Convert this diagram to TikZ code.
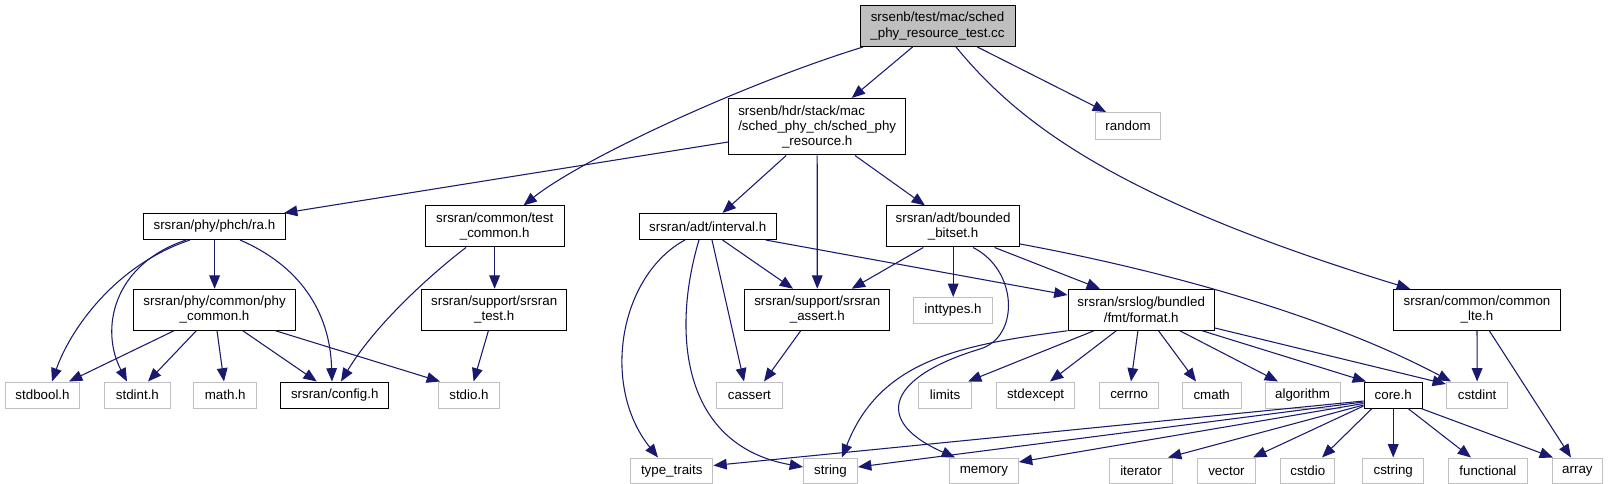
\documentclass[tikz,border=0pt]{standalone}
\usepackage{fontspec}
\setmainfont{Liberation Sans}
\usetikzlibrary{arrows.meta}
\definecolor{edgec}{HTML}{191970}
\definecolor{extc}{HTML}{BFBFBF}
\definecolor{rootfill}{HTML}{BFBFBF}
\begin{document}
\begin{tikzpicture}[x=0.75pt,y=-0.75pt,
  box/.style 2 args={line width=0.75pt, inner sep=0pt, align=center, fill=white,
    font=\fontsize{10}{11.4}\selectfont, minimum width=#1*0.75pt, minimum height=#2*0.75pt},
  doc/.style={draw=black},
  ext/.style={draw=extc},
  inc/.style={draw=edgec, line width=0.8pt, -{Triangle[length=10pt,width=8pt]}}
]
\path[use as bounding box, fill=white] (0,0) rectangle (1608,484);

% row 0-1
\node[box={155}{41}, doc, fill=rootfill] (root) at (937.5,26) {srsenb/test/mac/sched\\\_phy\_resource\_test.cc};
\node[box={177}{56.5}, doc] (sched) at (817.2,126.75) {\rlap{srsenb/hdr/stack/mac}\phantom{/sched\_phy\_ch/sched\_phy}\\/sched\_phy\_ch/sched\_phy\\\_resource.h};
\node[box={65}{27}, ext] (random) at (1128,126) {random};
% row 2
\node[box={141.6}{26}, doc] (ra) at (214.4,226.5) {srsran/phy/phch/ra.h};
\node[box={138.8}{41}, doc] (testcommon) at (494.7,226.5) {srsran/common/test\\\_common.h};
\node[box={137}{26}, doc] (interval) at (707.75,226.5) {srsran/adt/interval.h};
\node[box={133}{41}, doc] (bb) at (953.1,226.5) {srsran/adt/bounded\\\_bitset.h};
% row 3
\node[box={162.5}{41}, doc] (phycommon) at (214.55,309.75) {srsran/phy/common/phy\\\_common.h};
\node[box={145.4}{41}, doc] (srstest) at (494.2,309.75) {srsran/support/srsran\\\_test.h};
\node[box={145.3}{41}, doc] (assert) at (817.25,309.75) {srsran/support/srsran\\\_assert.h};
\node[box={78.5}{26}, ext] (inttypes) at (953,310.5) {inttypes.h};
\node[box={146.4}{41}, doc] (format) at (1141.2,309.75) {srsran/srslog/bundled\\/fmt/format.h};
\node[box={167}{41}, doc] (lte) at (1477,309.75) {srsran/common/common\\\_lte.h};
% row 4
\node[box={74.7}{26}, ext] (stdbool) at (42.55,395) {stdbool.h};
\node[box={65.4}{26}, ext] (stdint) at (137.4,395) {stdint.h};
\node[box={62.7}{26}, ext] (math) at (225.25,395) {math.h};
\node[box={108}{26}, doc] (config) at (334.75,395) {srsran/config.h};
\node[box={61.3}{26}, ext] (stdio) at (469,395) {stdio.h};
\node[box={65.4}{26}, ext] (cassert) at (749.4,395) {cassert};
\node[box={53}{26}, ext] (limits) at (945,395) {limits};
\node[box={78.6}{26}, ext] (stdexcept) at (1035.6,395) {stdexcept};
\node[box={58.6}{26}, ext] (cerrno) at (1129.2,395) {cerrno};
\node[box={59}{26}, ext] (cmath) at (1211.7,395) {cmath};
\node[box={74.8}{26}, ext] (algorithm) at (1302.6,395) {algorithm};
\node[box={58.4}{26}, doc] (core) at (1393.2,395) {core.h};
\node[box={61.4}{26}, ext] (cstdint) at (1477.1,395) {cstdint};
% row 5
\node[box={82.3}{25.6}, ext] (typetraits) at (671.75,470.8) {type\_traits};
\node[box={54}{25.6}, ext] (string) at (830.5,470.8) {string};
\node[box={68.9}{25.6}, ext] (memory) at (983.95,470.8) {memory};
\node[box={62.4}{25.6}, ext] (iterator) at (1141,470.8) {iterator};
\node[box={58.3}{25.6}, ext] (vector) at (1226.45,470.8) {vector};
\node[box={54.2}{25.6}, ext] (cstdio) at (1307.8,470.8) {cstdio};
\node[box={61}{25.6}, ext] (cstring) at (1393.2,470.8) {cstring};
\node[box={78.2}{25.6}, ext] (functional) at (1487.9,470.8) {functional};
\node[box={50.8}{25.6}, ext] (array) at (1577.4,470.8) {array};

% root
\draw[inc] (root.south -| 912.6,0) -- (sched.north -| 851.7,0);
\draw[inc] (root.south -| 863,0) .. controls (740,85) and (580,160) .. (testcommon.north -| 523.5,0);
\draw[inc] (root.south -| 977.4,0) -- (random.north -| 1106,0);
\draw[inc] (root.south -| 956,0) .. controls (1020,125) and (1120,200) .. (lte.north -| 1410,0);
% sched
\draw[inc] (sched.west |- 0,142) -- (ra.north -| 284,0);
\draw[inc] (sched.south -| 786.2,0) -- (interval.north -| 722.5,0);
\draw[inc] (sched.south) -- (assert.north);
\draw[inc] (sched.south -| 855,0) -- (bb.north -| 925,0);
% ra
\draw[inc] (ra.south -| 190,0) .. controls (115,265) and (70,330) .. (stdbool.north -| 52,0);
\draw[inc] (ra.south -| 186,0) .. controls (112,265) and (100,330) .. (stdint.north -| 127,0);
\draw[inc] (ra.south -| 214.6,0) -- (phycommon.north -| 214.6,0);
\draw[inc] (ra.south -| 240,0) .. controls (298,265) and (330,310) .. (config.north -| 332,0);
% test_common
\draw[inc] (testcommon.south -| 466,0) .. controls (430,275) and (375,325) .. (config.north -| 341,0);
\draw[inc] (testcommon.south -| 494.6,0) -- (srstest.north -| 494.6,0);
% phy_common
\draw[inc] (phycommon.south -| 174,0) -- (stdbool.north -| 69,0);
\draw[inc] (phycommon.south -| 196.3,0) -- (stdint.north -| 148,0);
\draw[inc] (phycommon.south -| 217,0) -- (math.north -| 224,0);
\draw[inc] (phycommon.south -| 242.8,0) -- (config.north -| 316.8,0);
\draw[inc] (phycommon.south -| 275.5,0) -- (stdio.north -| 440,0);
\draw[inc] (srstest.south -| 488.4,0) -- (stdio.north -| 473.6,0);
% interval
\draw[inc] (interval.south -| 685,0) .. controls (620,275) and (600,385) .. (typetraits.north -| 658,0);
\draw[inc] (interval.south -| 699,0) .. controls (672,330) and (680,445) .. (string.west |- 0,467);
\draw[inc] (interval.south -| 712,0) -- (cassert.north -| 744,0);
\draw[inc] (interval.south -| 722.5,0) -- (assert.north -| 793,0);
\draw[inc] (interval.south -| 765.6,0) -- (format.west |- 0,295);
\draw[inc] (assert.south -| 800.7,0) -- (cassert.north -| 764,0);
% bounded_bitset
\draw[inc] (bb.south -| 923.3,0) -- (assert.north -| 851.7,0);
\draw[inc] (bb.south -| 953.2,0) -- (inttypes.north -| 953.2,0);
\draw[inc] (bb.south -| 973,0) .. controls (1018,270) and (1020,337) .. (980,349) .. controls (890,376) and (870,420) .. (memory.north -| 955,0);
\draw[inc] (bb.south -| 994.6,0) -- (format.north -| 1100,0);
\draw[inc] (bb.east |- 0,244) .. controls (1150,268) and (1320,312) .. (cstdint.north -| 1451,0);
% format
\draw[inc] (format.south west) .. controls (960,345) and (880,360) .. (string.north -| 842,0);
\draw[inc] (format.south -| 1094,0) -- (limits.north -| 968,0);
\draw[inc] (format.south -| 1116.3,0) -- (stdexcept.north -| 1050,0);
\draw[inc] (format.south -| 1137.9,0) -- (cerrno.north -| 1131,0);
\draw[inc] (format.south -| 1158.5,0) -- (cmath.north -| 1196,0);
\draw[inc] (format.south -| 1179.8,0) -- (algorithm.north -| 1278,0);
\draw[inc] (format.south -| 1202.1,0) -- (core.north -| 1366,0);
\draw[inc] (format.east |- 0,328) -- (cstdint.west |- 0,384);
% core
\draw[inc] (core.west |- 0,401) -- (typetraits.east |- 0,465.5);
\draw[inc] (core.west |- 0,402) -- (string.east |- 0,467);
\draw[inc] (core.west |- 0,403.5) -- (memory.east |- 0,462);
\draw[inc] (core.west |- 0,405) -- (iterator.north -| 1168,0);
\draw[inc] (core.west |- 0,406) -- (vector.north -| 1253,0);
\draw[inc] (core.south -| 1372,0) -- (cstdio.north -| 1322,0);
\draw[inc] (core.south) -- (cstring.north);
\draw[inc] (core.south -| 1408,0) -- (functional.north -| 1471,0);
\draw[inc] (core.south -| 1421,0) -- (array.north -| 1553,0);
% common_lte
\draw[inc] (lte.south) -- (cstdint.north);
\draw[inc] (lte.south -| 1489.3,0) -- (array.north -| 1571,0);
\end{tikzpicture}
\end{document}
